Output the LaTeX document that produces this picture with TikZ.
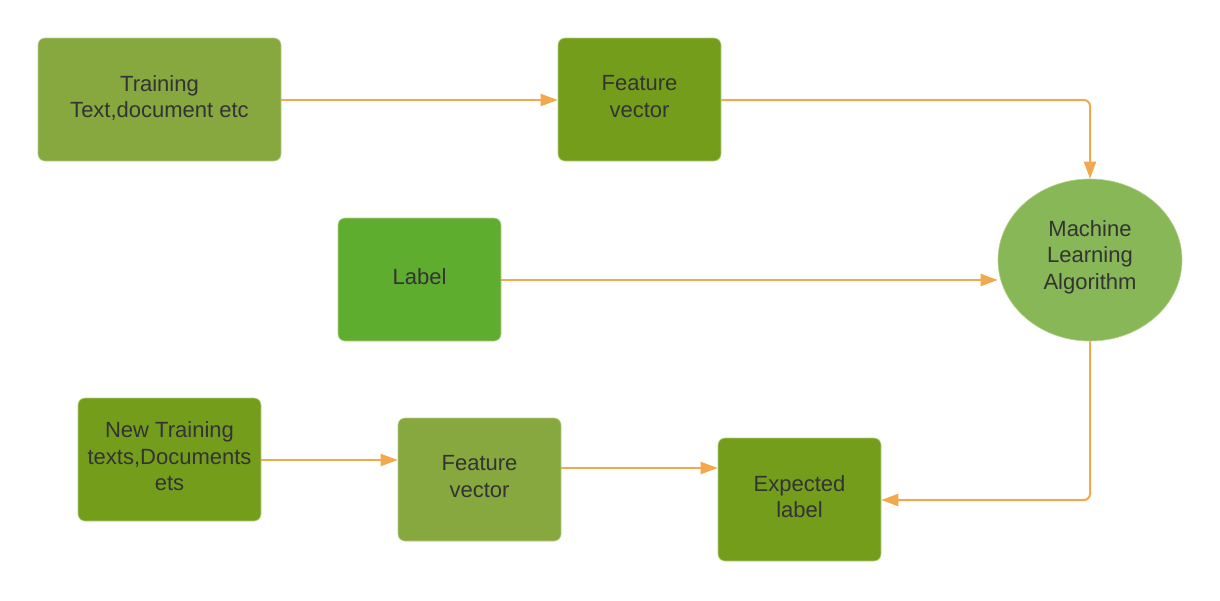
\documentclass[tikz,border=0pt]{standalone}
\usepackage{fontspec}
\setmainfont{Liberation Sans}
\usetikzlibrary{arrows.meta,shapes.geometric}
\definecolor{olivelight}{HTML}{86A83E}
\definecolor{olivedark}{HTML}{759D1C}
\definecolor{labelgreen}{HTML}{5FAD2E}
\definecolor{ellgreen}{HTML}{87B757}
\definecolor{arroworange}{HTML}{F2A84C}
\definecolor{txt}{HTML}{333333}
\definecolor{edgeline}{HTML}{B5CF8C}
\tikzset{
  box/.style={rectangle, rounded corners=7pt, minimum width=163pt, minimum height=123pt,
    inner sep=0pt, align=center, text=txt, draw=edgeline, line width=0.6pt,
    text depth=6pt, font=\fontsize{22}{26.5}\selectfont},
  ellnode/.style={ellipse, minimum width=184pt, minimum height=162pt, inner sep=0pt,
    align=center, text=txt, fill=ellgreen, draw=edgeline, line width=0.6pt,
    text depth=10.5pt, font=\fontsize{22}{26.5}\selectfont},
  conn/.style={draw=arroworange, line width=2pt, rounded corners=6pt,
    -{Triangle[length=17pt,width=12pt]}},
}
\begin{document}
\begin{tikzpicture}[x=1pt,y=-1pt]
\useasboundingbox (0,0) rectangle (1220,600);
\fill[white] (0,0) rectangle (1220,600);
\node[box, fill=olivelight, minimum width=243pt] (train) at (159.5,99.5) {Training\\Text,document etc};
\node[box, fill=olivedark] (fv1) at (639.5,99.5) {Feature\\vector};
\node[box, fill=labelgreen] (lab) at (419.5,279.5) {Label};
\node[ellnode] (mla) at (1090,260) {Machine\\Learning\\Algorithm};
\node[box, fill=olivedark, minimum width=183pt] (newt) at (169.5,459.5) {New Training\\texts,Documents\\ets};
\node[box, fill=olivelight] (fv2) at (479.5,479.5) {Feature\\vector};
\node[box, fill=olivedark] (exp) at (799.5,499.5) {Expected\\label};
\draw[conn] (train.east |- 0,100) -- (fv1.west |- 0,100);
\draw[conn] (fv1.east |- 0,100) -| (mla.north);
\draw[conn] (lab.east |- 0,280) -- (mla.west |- 0,280);
\draw[conn] (newt.east |- 0,460) -- (fv2.west |- 0,460);
\draw[conn] (fv2.east |- 0,468) -- (exp.west |- 0,468);
\draw[conn] (mla.south) |- (exp.east |- 0,500);
\end{tikzpicture}
\end{document}
